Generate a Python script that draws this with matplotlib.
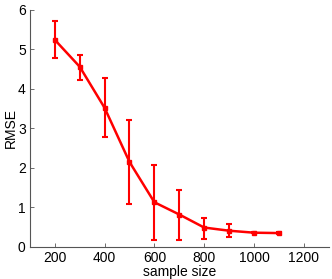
import matplotlib
matplotlib.use("Agg")
from matplotlib import pyplot as plt

sample_size = [200, 300, 400, 500, 600, 700, 800, 900, 1000, 1100]
rmse = [5.24, 4.56, 3.52, 2.15, 1.13, 0.82, 0.49, 0.41, 0.36, 0.35]
err_low = [0.45, 0.33, 0.74, 1.07, 0.95, 0.64, 0.28, 0.16, 0.02, 0.02]
err_high = [0.48, 0.30, 0.76, 1.05, 0.95, 0.62, 0.25, 0.16, 0.02, 0.02]

plt.rcParams['font.family'] = ['Liberation Sans', 'DejaVu Sans']

fig = plt.figure(figsize=(3.32, 2.79), dpi=100)
ax = fig.add_axes([0.09, 0.115, 0.90, 0.85])

ax.errorbar(sample_size, rmse, yerr=[err_low, err_high], color='red',
            lw=1.8, elinewidth=1.5, capsize=2.5, capthick=1.5,
            marker='s', markersize=2.2)

ax.set_xlim(100, 1300)
ax.set_ylim(0, 6)
ax.set_xticks([200, 400, 600, 800, 1000, 1200])
ax.set_yticks([0, 1, 2, 3, 4, 5, 6])
ax.set_xlabel('sample size', fontsize=10, labelpad=0)
ax.set_ylabel('RMSE', fontsize=10, labelpad=0)

for s in ['top', 'right']:
    ax.spines[s].set_visible(False)
for s in ['left', 'bottom']:
    ax.spines[s].set_color('#555555')
    ax.spines[s].set_linewidth(0.8)
ax.tick_params(direction='in', length=3, width=0.6, colors='#555555',
               labelcolor='black', labelsize=10, pad=3)

plt.savefig('out.png', dpi=100)
